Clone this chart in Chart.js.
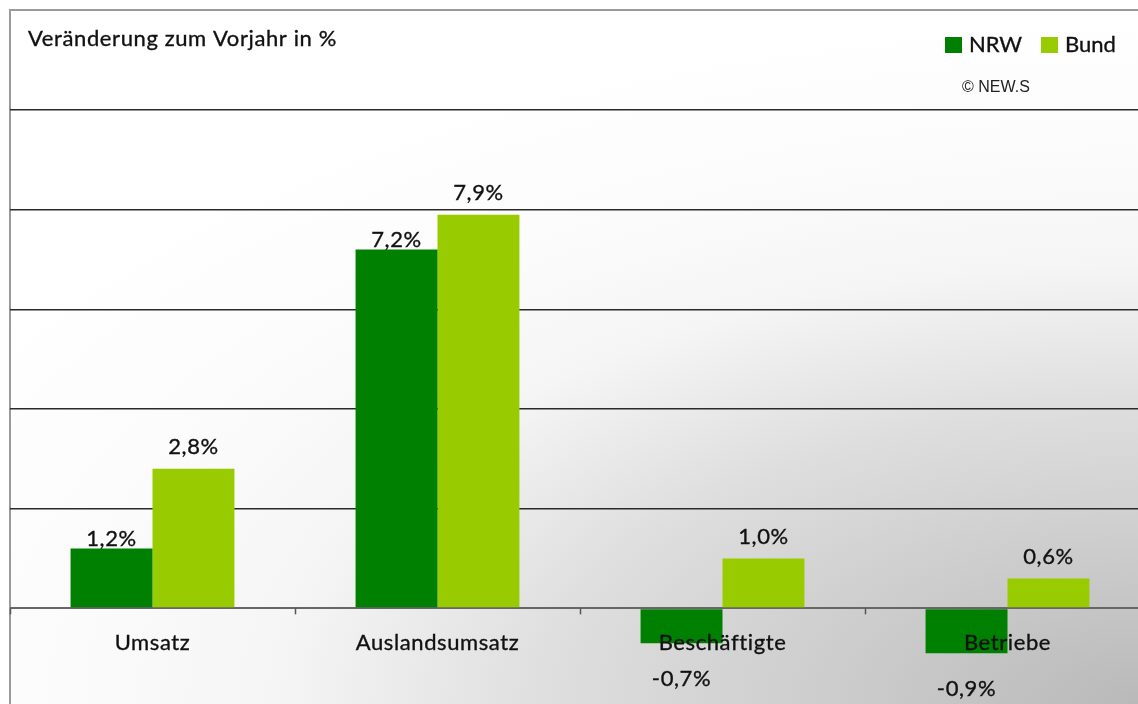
<!DOCTYPE html>
<html>
<head>
<meta charset="utf-8">
<script src="https://cdn.jsdelivr.net/npm/chart.js@4/dist/chart.umd.min.js"></script>
<style>
  html, body { margin: 0; padding: 0; width: 1138px; height: 704px; overflow: hidden; background: #ffffff; }
  #frame {
    position: absolute; left: 9px; top: 9px; width: 1160px; height: 720px;
    border-left: 2px solid #9a9a9a; border-top: 2px solid #9a9a9a;
    background: radial-gradient(ellipse 1370px 700px at 1129px 695px,
      #b9b9b9 0%, #dedede 43%, #f5f5f5 63%, #fbfbfb 78%, #ffffff 100%);
  }
  #wrap { position: absolute; left: 0; top: 0; width: 1160px; height: 720px; }
</style>
</head>
<body>
<div id="frame"></div>
<div id="wrap"><canvas id="c" width="1160" height="720"></canvas></div>
<script>
// ---- data ----
const categories = ['Umsatz', 'Auslandsumsatz', 'Beschäftigte', 'Betriebe'];
const seriesNames = ['NRW', 'Bund'];
const nrwValues = [1.2, 7.2, -0.7, -0.9];
const bundValues = [2.8, 7.9, 1.0, 0.6];
const yTicks = [-2, 0, 2, 4, 6, 8, 10];
const titleText = 'Veränderung zum Vorjahr in %';
const sourceText = '© NEW.S';

const colNRW = '#008000';
const colBund = '#99cc00';
const FONT = 'Lato, "Open Sans", sans-serif';

function fmt(v) {
  return v.toFixed(1).replace('.', ',') + '%';
}

function boldText(ctx, txt, x, y) {
  ctx.fillText(txt, x, y);
  ctx.strokeText(txt, x, y);
}

const overlayPlugin = {
  id: 'overlay',
  afterDatasetsDraw(chart) {
    const ctx = chart.ctx;
    const xs = chart.scales.x, ys = chart.scales.y;
    const area = chart.chartArea;
    const y0 = ys.getPixelForValue(0);
    ctx.save();
    // tick marks on zero line at category boundaries
    ctx.strokeStyle = '#555';
    ctx.lineWidth = 1.5;
    for (let i = 0; i <= categories.length; i++) {
      let x;
      if (i === 0) x = area.left;
      else if (i === categories.length) x = area.right;
      else x = (xs.getPixelForValue(i - 1) + xs.getPixelForValue(i)) / 2;
      ctx.beginPath();
      ctx.moveTo(Math.round(x) + 0.5, y0);
      ctx.lineTo(Math.round(x) + 0.5, y0 + 6);
      ctx.stroke();
    }
    ctx.fillStyle = '#111';
    ctx.strokeStyle = '#111';
    ctx.lineWidth = 0.35;
    ctx.letterSpacing = '0.6px';
    ctx.font = '22px ' + FONT;
    ctx.textAlign = 'center';
    ctx.textBaseline = 'middle';
    // category labels
    categories.forEach((c, i) => {
      boldText(ctx, c, xs.getPixelForValue(i), y0 + 35);
    });
    // value labels
    chart.data.datasets.forEach((ds, di) => {
      const meta = chart.getDatasetMeta(di);
      meta.data.forEach((bar, i) => {
        const v = ds.data[i];
        const y = v >= 0 ? bar.y - ds.labelOffset : bar.y + 36;
        boldText(ctx, fmt(v), bar.x, y);
      });
    });
    // title
    ctx.textAlign = 'left';
    boldText(ctx, titleText, 28, 39);
    // legend
    const legendX = [945, 1041];
    chart.data.datasets.forEach((ds, di) => {
      const lx = legendX[di];
      ctx.fillStyle = ds.backgroundColor;
      ctx.fillRect(lx, 37, 17, 16);
      ctx.fillStyle = '#111';
      ctx.letterSpacing = '0px';
      boldText(ctx, ds.label, lx + 24, 45);
    });
    // source
    ctx.letterSpacing = '0px';
    ctx.font = '16px "Liberation Sans", Arial, sans-serif';
    ctx.fillStyle = '#222';
    ctx.fillText(sourceText, 962, 88);
    ctx.restore();
  }
};

new Chart(document.getElementById('c'), {
  type: 'bar',
  data: {
    labels: categories,
    datasets: [
      { label: seriesNames[0], data: nrwValues, backgroundColor: colNRW, labelOffset: 10 },
      { label: seriesNames[1], data: bundValues, backgroundColor: colBund, labelOffset: 22 }
    ]
  },
  options: {
    responsive: false,
    animation: false,
    events: [],
    layout: { padding: { left: 10, right: 10, top: 110, bottom: 12 } },
    datasets: { bar: { categoryPercentage: 0.575, barPercentage: 1.0 } },
    plugins: { legend: { display: false }, tooltip: { enabled: false }, title: { display: false } },
    scales: {
      x: { display: false },
      y: {
        min: yTicks[0], max: yTicks[yTicks.length - 1],
        afterBuildTicks(scale) { scale.ticks = yTicks.map(v => ({ value: v })); },
        afterFit(scale) { scale.width = 0; },
        ticks: { display: false },
        border: { display: false },
        grid: {
          drawTicks: false,
          color: (c) => c.tick && c.tick.value === 0 ? '#666' : '#2a2a2a',
          lineWidth: (c) => c.tick && c.tick.value === 0 ? 2 : 1.4
        }
      }
    }
  },
  plugins: [overlayPlugin]
});
</script>
</body>
</html>
